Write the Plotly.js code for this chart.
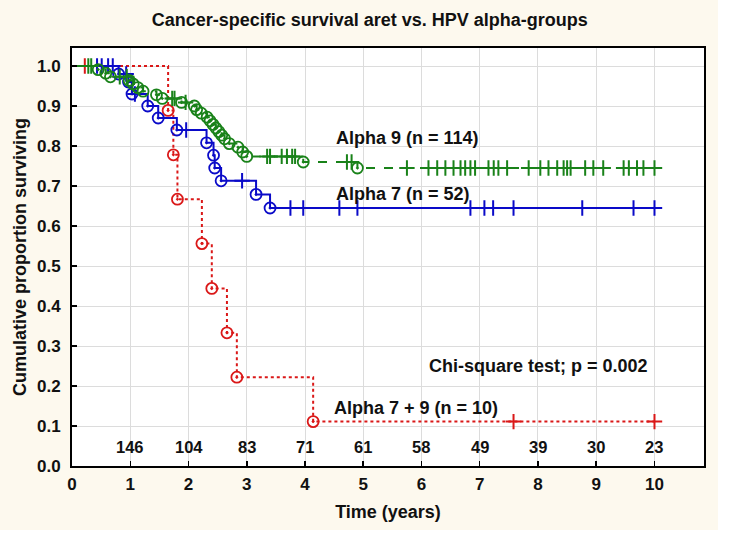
<!DOCTYPE html>
<html>
<head>
<meta charset="utf-8">
<script src="https://cdn.plot.ly/plotly-3.0.1.min.js"></script>
<style>
  html, body { margin: 0; padding: 0; background: #ffffff; }
  #chart { width: 718px; height: 530px; }
</style>
</head>
<body>
<div id="chart"></div>
<script>
// ---- Data ----
// Alpha 9 (n = 114)
const a9EventTimes = [0.45, 0.58, 0.66, 0.98, 1.05, 1.13, 1.22, 1.45, 1.55, 1.88, 2.10, 2.14, 2.22, 2.32, 2.37, 2.42, 2.47, 2.52, 2.57, 2.62, 2.70, 2.85, 2.93, 3.00, 3.97, 4.90];
const a9EventSurv  = [0.991, 0.982, 0.973, 0.964, 0.955, 0.946, 0.937, 0.928, 0.919, 0.909, 0.900, 0.891, 0.882, 0.872, 0.863, 0.854, 0.845, 0.836, 0.827, 0.818, 0.806, 0.797, 0.785, 0.774, 0.760, 0.745];
const a9CensorTimes = [0.28, 0.33, 0.82, 0.94, 1.72, 1.76, 1.95, 3.35, 3.40, 3.60, 3.69, 3.78, 3.83, 4.72, 4.80, 5.75, 6.12, 6.27, 6.41, 6.55, 6.67, 6.75, 6.84, 6.92, 7.15, 7.24, 7.32, 7.47, 7.84, 8.04, 8.18, 8.33, 8.44, 8.50, 8.56, 8.81, 8.95, 9.12, 9.47, 9.56, 9.70, 9.81, 10.0];

// Alpha 7 (n = 52)
const a7EventTimes = [0.80, 0.97, 1.03, 1.30, 1.48, 1.80, 2.31, 2.43, 2.45, 2.56, 3.16, 3.40];
const a7EventSurv  = [0.980, 0.960, 0.930, 0.900, 0.870, 0.840, 0.808, 0.777, 0.745, 0.713, 0.679, 0.645];
const a7CensorTimes = [0.43, 0.51, 0.62, 0.70, 0.93, 1.08, 1.96, 2.92, 3.75, 3.97, 4.59, 4.90, 6.84, 7.08, 7.23, 7.58, 8.76, 9.64, 10.0];

// Alpha 7 + 9 (n = 10)
const a79EventTimes = [1.65, 1.74, 1.81, 2.23, 2.40, 2.66, 2.83, 4.14];
const a79EventSurv  = [0.889, 0.778, 0.667, 0.556, 0.444, 0.333, 0.222, 0.111];
const a79CensorTimes = [0.22, 7.58, 10.0];

// Numbers at risk
const riskTimes  = [1, 2, 3, 4, 5, 6, 7, 8, 9, 10];
const riskCounts = [146, 104, 83, 71, 61, 58, 49, 39, 30, 23];

const xTicks = [0, 1, 2, 3, 4, 5, 6, 7, 8, 9, 10];
const yTicks = [0.0, 0.1, 0.2, 0.3, 0.4, 0.5, 0.6, 0.7, 0.8, 0.9, 1.0];

const groupLabels = ["Alpha 9 (n = 114)", "Alpha 7 (n = 52)", "Alpha 7 + 9 (n = 10)"];

// ---- Helpers ----
function survAt(t, times, surv) {
  let s = 1.0;
  for (let i = 0; i < times.length; i++) { if (times[i] <= t) s = surv[i]; }
  return s;
}
function groupTraces(evT, evS, cT, color, dash) {
  const endT = Math.max(cT[cT.length - 1], evT[evT.length - 1]);
  const lineX = [0].concat(evT, [endT]);
  const lineY = [1.0].concat(evS, [evS[evS.length - 1]]);
  return [
    { x: lineX, y: lineY, mode: 'lines', line: { shape: 'hv', color: color, width: 2, dash: dash }, hoverinfo: 'skip', showlegend: false },
    { x: evT, y: evS, mode: 'markers', marker: { symbol: 'circle-open-dot', size: 11, color: color, line: { width: 1.8, color: color } }, showlegend: false },
    { x: cT, y: cT.map(t => survAt(t, evT, evS)), mode: 'markers', marker: { symbol: 'cross-thin-open', size: 11, color: color, line: { width: 2, color: color } }, showlegend: false }
  ];
}

const red = 'rgb(218,24,24)', blue = 'rgb(10,10,200)', green = 'rgb(25,130,25)';
const traces = [].concat(
  groupTraces(a79EventTimes, a79EventSurv, a79CensorTimes, red, 'dot'),
  groupTraces(a7EventTimes, a7EventSurv, a7CensorTimes, blue, 'solid'),
  groupTraces(a9EventTimes, a9EventSurv, a9CensorTimes, green, 'dash')
);

const fam = 'Liberation Sans, Arial, sans-serif';
const annFont = { family: fam, size: 18, color: '#111', weight: 'bold' };
const annotations = riskTimes.map((t, i) => ({
  x: t, y: 0.048, xref: 'x', yref: 'y', text: String(riskCounts[i]), showarrow: false,
  font: { family: fam, size: 16.5, color: '#111', weight: 'bold' }, xanchor: 'center', yanchor: 'middle'
}));
annotations.push(
  { x: 4.5, y: 0.82, xref: 'x', yref: 'y', text: groupLabels[0], showarrow: false, xanchor: 'left', yanchor: 'middle', font: annFont },
  { x: 4.5, y: 0.68, xref: 'x', yref: 'y', text: groupLabels[1], showarrow: false, xanchor: 'left', yanchor: 'middle', font: annFont },
  { x: 4.47, y: 0.145, xref: 'x', yref: 'y', text: groupLabels[2], showarrow: false, xanchor: 'left', yanchor: 'middle', font: annFont },
  { x: 6.1, y: 0.25, xref: 'x', yref: 'y', text: 'Chi-square test; p = 0.002', showarrow: false, xanchor: 'left', yanchor: 'middle', font: annFont }
);

const layout = {
  width: 718, height: 530,
  margin: { l: 72, r: 14, t: 48, b: 64 },
  paper_bgcolor: '#fdf9ee',
  plot_bgcolor: '#ffffff',
  title: { text: 'Cancer-specific survival aret vs. HPV alpha-groups', font: { family: fam, size: 18, color: '#111', weight: 'bold' }, x: 0.515, xanchor: 'center', y: 0.962, yanchor: 'middle', yref: 'container' },
  xaxis: {
    range: [0, 10.85], tickvals: xTicks, ticktext: xTicks.map(String),
    showgrid: true, gridcolor: '#dcdcdc', gridwidth: 1, zeroline: false,
    showline: true, linecolor: '#000', linewidth: 2, mirror: true,
    ticks: 'inside', ticklen: 5, tickcolor: '#000', tickwidth: 1.5,
    ticklabelstandoff: 2,
    tickfont: { family: fam, size: 17, color: '#111', weight: 'bold' },
    title: { text: 'Time (years)', font: { family: fam, size: 18, color: '#111', weight: 'bold' }, standoff: 12 }
  },
  yaxis: {
    range: [0, 1.045], tickvals: yTicks, ticktext: yTicks.map(v => v.toFixed(1)),
    showgrid: true, gridcolor: '#dcdcdc', gridwidth: 1, zeroline: false,
    showline: true, linecolor: '#000', linewidth: 2, mirror: true,
    ticks: 'inside', ticklen: 5, tickcolor: '#000', tickwidth: 1.5,
    ticklabelstandoff: 6,
    tickfont: { family: fam, size: 17, color: '#111', weight: 'bold' },
    title: { text: 'Cumulative proportion surviving', font: { family: fam, size: 18, color: '#111', weight: 'bold' }, standoff: 6 }
  },
  annotations: annotations,
  showlegend: false
};

Plotly.newPlot('chart', traces, layout, { displayModeBar: false, staticPlot: true });
</script>
</body>
</html>
